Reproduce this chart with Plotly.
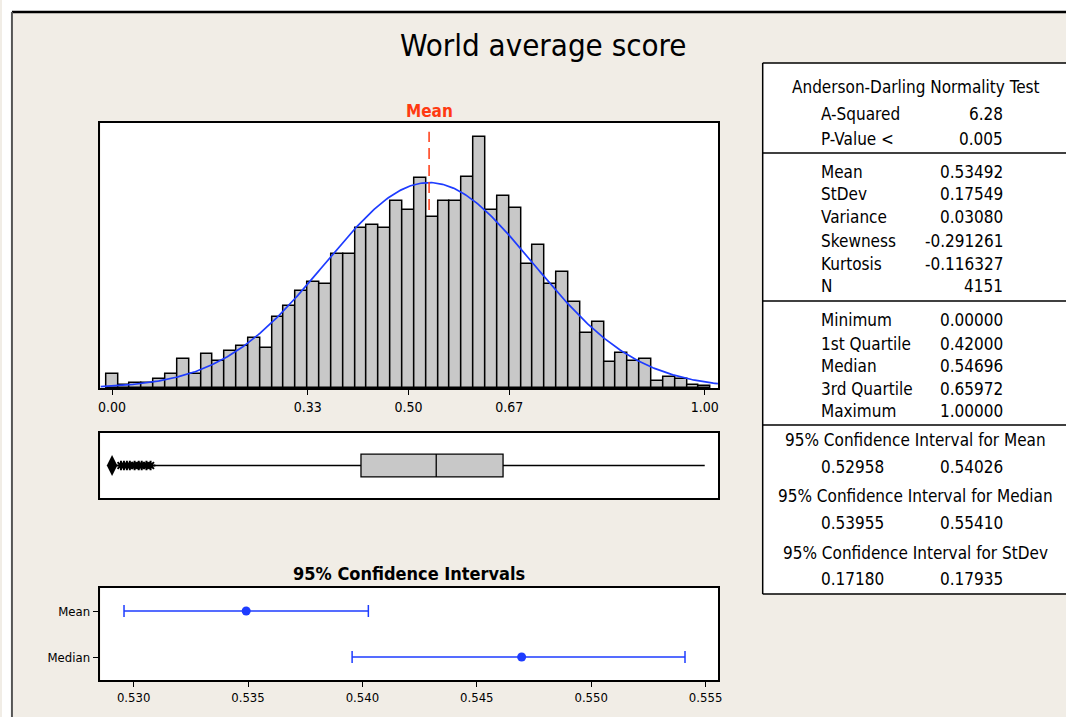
import numpy as np
import plotly.graph_objects as go

# ---------------- data ----------------
TITLE = "World average score"
BIN_WIDTH = 0.02
BIN_CENTERS = [round(i * 0.02, 2) for i in range(51)]
COUNTS = [13, 3, 5, 5, 8, 13, 27, 13, 31, 25, 34, 39, 46, 37, 65, 75, 89, 97, 96,
          123, 123, 147, 150, 147, 172, 164, 193, 157, 172, 172, 194, 231, 164, 176,
          165, 114, 131, 96, 107, 79, 51, 61, 24, 32, 25, 27, 6, 10, 8, 3, 2]
HIST_TICKS = [0.0, 0.33, 0.50, 0.67, 1.00]
HIST_TICK_TEXT = ["0.00", "0.33", "0.50", "0.67", "1.00"]

N = 4151
MEAN = 0.53492
STDEV = 0.17549
Q1 = 0.42000
MEDIAN = 0.54696
Q3 = 0.65972
MINIMUM = 0.0
MAXIMUM = 1.0
LOWER_WHISKER = 0.07
OUTLIERS_ZERO = [0.0]
OUTLIERS = [0.015, 0.02, 0.025, 0.03, 0.038, 0.045, 0.05, 0.058, 0.065]

CI_LABELS = ["Mean", "Median"]
CI_CENTER = [MEAN, MEDIAN]
CI_LOW = [0.52958, 0.53955]
CI_HIGH = [0.54026, 0.55410]
CI_TICKS = [0.530, 0.535, 0.540, 0.545, 0.550, 0.555]
CI_TICK_TEXT = ["0.530", "0.535", "0.540", "0.545", "0.550", "0.555"]

AD_LABELS = ["A-Squared", "P-Value <"]
AD_VALUES = ["6.28", "0.005"]
DESC_LABELS = ["Mean", "StDev", "Variance", "Skewness", "Kurtosis", "N"]
DESC_VALUES = ["0.53492", "0.17549", "0.03080", "-0.291261", "-0.116327", "4151"]
QUART_LABELS = ["Minimum", "1st Quartile", "Median", "3rd Quartile", "Maximum"]
QUART_VALUES = ["0.00000", "0.42000", "0.54696", "0.65972", "1.00000"]
CI_TABLE_HEADERS = ["95% Confidence Interval for Mean",
                    "95% Confidence Interval for Median",
                    "95% Confidence Interval for StDev"]
CI_TABLE_VALUES = [("0.52958", "0.54026"), ("0.53955", "0.55410"), ("0.17180", "0.17935")]

# ---------------- style ----------------
W, H = 1066, 717
BG = "#F1EDE6"
BAR_FILL = "#C8C8C8"
BLUE = "#1E3CFF"
RED = "#FF3A12"
FONT = "DejaVu Sans Condensed, Tahoma, Liberation Sans, sans-serif"


def px(xp):
    return xp / W


def py(yp):
    return 1 - yp / H


fig = go.Figure()

# histogram
fig.add_trace(go.Bar(x=BIN_CENTERS, y=COUNTS, width=BIN_WIDTH,
                     marker=dict(color=BAR_FILL, line=dict(color="black", width=1.5)),
                     xaxis="x", yaxis="y", showlegend=False))

# fitted normal curve
HX0, HX1 = -0.0196, 1.0223
xs = np.linspace(HX0, HX1, 400)
ys = N * BIN_WIDTH * np.exp(-0.5 * ((xs - MEAN) / STDEV) ** 2) / (STDEV * np.sqrt(2 * np.pi))
fig.add_trace(go.Scatter(x=xs, y=ys, mode="lines", line=dict(color=BLUE, width=1.7),
                         xaxis="x", yaxis="y", showlegend=False))

# boxplot from summary stats
fig.add_trace(go.Box(q1=[Q1], median=[MEDIAN], q3=[Q3], lowerfence=[LOWER_WHISKER],
                     upperfence=[MAXIMUM], y=[0], orientation="h", width=0.7,
                     whiskerwidth=0, boxpoints=False, fillcolor=BAR_FILL,
                     line=dict(color="black", width=1.3),
                     xaxis="x2", yaxis="y2", showlegend=False))
fig.add_trace(go.Scatter(x=OUTLIERS_ZERO, y=[0] * len(OUTLIERS_ZERO), mode="markers",
                         marker=dict(symbol="diamond-tall", size=15, color="black"),
                         xaxis="x2", yaxis="y2", showlegend=False))
fig.add_trace(go.Scatter(x=OUTLIERS, y=[0] * len(OUTLIERS), mode="markers",
                         marker=dict(symbol="asterisk-open", size=8, color="black",
                                     line=dict(color="black", width=2)),
                         xaxis="x2", yaxis="y2", showlegend=False))

# confidence intervals
ci_y = [2, 1]
fig.add_trace(go.Scatter(x=CI_CENTER, y=ci_y, mode="markers",
                         marker=dict(symbol="circle", size=9, color=BLUE),
                         error_x=dict(type="data", symmetric=False,
                                      array=[h - c for h, c in zip(CI_HIGH, CI_CENTER)],
                                      arrayminus=[c - l for c, l in zip(CI_CENTER, CI_LOW)],
                                      color=BLUE, thickness=1.5, width=6),
                         xaxis="x3", yaxis="y3", showlegend=False))

frame = dict(showline=True, mirror=True, linecolor="black", linewidth=1.5,
             showgrid=False, zeroline=False)
tickfont = dict(family=FONT, size=14, color="black")

x_dom = [px(99), px(720)]
fig.update_layout(
    width=W, height=H, autosize=False, margin=dict(l=0, r=0, t=0, b=0),
    paper_bgcolor=BG, plot_bgcolor="white", bargap=0,
    xaxis=dict(domain=x_dom, range=[HX0, HX1], tickvals=HIST_TICKS, ticktext=HIST_TICK_TEXT,
               ticks="outside", ticklen=5, tickcolor="black", tickfont=tickfont,
               anchor="y", **frame),
    yaxis=dict(domain=[py(388), py(123)], range=[0, 243.5], showticklabels=False,
               ticks="", anchor="x", **frame),
    xaxis2=dict(domain=x_dom, range=[HX0, HX1], showticklabels=False, ticks="",
                anchor="y2", **frame),
    yaxis2=dict(domain=[py(498), py(433)], range=[-1, 1], showticklabels=False,
                ticks="", anchor="x2", **frame),
    xaxis3=dict(domain=x_dom, range=[0.52855, 0.55554], tickvals=CI_TICKS,
                ticktext=CI_TICK_TEXT, ticks="outside", ticklen=5, tickcolor="black",
                tickfont=dict(family=FONT, size=13, color="black"), anchor="y3", **frame),
    yaxis3=dict(domain=[py(680), py(588)], range=[0.5, 2.5], tickvals=ci_y,
                ticktext=CI_LABELS, ticks="outside", ticklen=6, tickcolor="black",
                tickfont=dict(family=FONT, size=13, color="black"), anchor="x3", **frame),
)

shapes = []
# white strip + outer frame
shapes.append(dict(type="rect", xref="paper", yref="paper", x0=0, x1=1.02, y0=py(12), y1=1,
                   fillcolor="white", line=dict(width=0), layer="below"))
shapes.append(dict(type="rect", xref="paper", yref="paper", x0=0, x1=px(10), y0=0, y1=1,
                   fillcolor="white", line=dict(width=0), layer="below"))
shapes.append(dict(type="line", xref="paper", yref="paper", x0=px(10), x1=1.02, y0=py(12), y1=py(12),
                   line=dict(color="black", width=2.5)))
shapes.append(dict(type="line", xref="paper", yref="paper", x0=px(10), x1=px(10), y0=0, y1=py(12),
                   line=dict(color="#555555", width=2)))
# mean reference line
shapes.append(dict(type="line", xref="x", yref="y domain", x0=MEAN, x1=MEAN, y0=0.672, y1=0.967,
                   line=dict(color=RED, width=1.5, dash="11px,6px")))
# stats table box (open to the right edge)
shapes.append(dict(type="rect", xref="paper", yref="paper", x0=px(765), x1=1.02,
                   y0=py(594), y1=py(63), fillcolor="white", line=dict(width=0), layer="below"))
for sep in (63, 153, 301, 425, 594):
    shapes.append(dict(type="line", xref="paper", yref="paper", x0=px(765), x1=1.02,
                       y0=py(sep), y1=py(sep), line=dict(color="black", width=1.5)))
shapes.append(dict(type="line", xref="paper", yref="paper", x0=px(765), x1=px(765),
                   y0=py(594), y1=py(63), line=dict(color="black", width=1.5)))
fig.update_layout(shapes=shapes)

ann = []


def text(t, x, y, font, xanchor="center", xref="paper"):
    ann.append(dict(text=t, x=x, y=y, xref=xref, yref="paper", xanchor=xanchor,
                    yanchor="middle", showarrow=False, font=font))


text(TITLE, px(545), py(45), dict(family=FONT, size=31, color="black"))
text("<b>Mean</b>", MEAN, py(111), dict(family=FONT, size=17, color=RED), xref="x")
text("<b>95% Confidence Intervals</b>", px(409), py(573),
     dict(family=FONT, size=18, color="black"))

tfont = dict(family=FONT, size=17, color="black")
LX, RX, CX = px(822), px(1009), px(919)


def row(label, value, ypix):
    text(label, LX, py(ypix), tfont, xanchor="left")
    text(value, RX, py(ypix), tfont, xanchor="right")


text("Anderson-Darling Normality Test", CX, py(87), tfont)
for lab, val, yp in zip(AD_LABELS, AD_VALUES, (114, 139)):
    row(lab, val, yp)
for lab, val, yp in zip(DESC_LABELS, DESC_VALUES, (172, 194, 217, 241, 264, 286)):
    row(lab, val, yp)
for lab, val, yp in zip(QUART_LABELS, QUART_VALUES, (320, 344, 366, 389, 411)):
    row(lab, val, yp)
for hdr, (lo, hi), yh, yv in zip(CI_TABLE_HEADERS, CI_TABLE_VALUES, (440, 496, 553), (467, 523, 579)):
    text(hdr, CX, py(yh), tfont)
    row(lo, hi, yv)

fig.update_layout(annotations=ann)
fig.write_html("out.html", config={"displayModeBar": False},
               default_width="1066px", default_height="717px",
               post_script="document.documentElement.style.margin='0';"
                           "document.body.style.margin='0';"
                           "document.body.style.overflow='hidden';")
